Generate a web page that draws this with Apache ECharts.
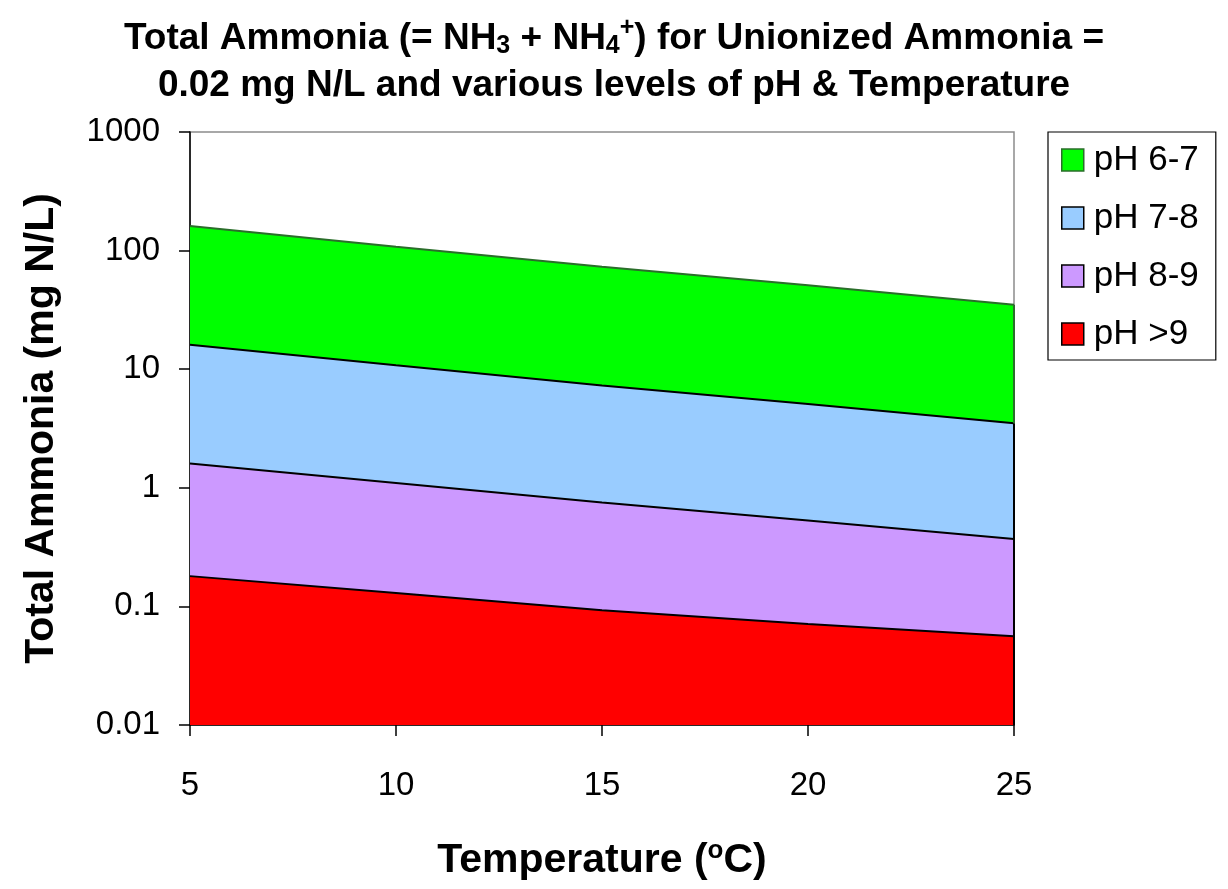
<!DOCTYPE html>
<html>
<head>
<meta charset="utf-8">
<title>Total Ammonia vs Temperature</title>
<script src="https://cdn.jsdelivr.net/npm/echarts@6/dist/echarts.min.js"></script>
<style>
  html, body { margin: 0; padding: 0; background: #fff; }
  #chart { width: 1228px; height: 889px; }
</style>
</head>
<body>
<div id="chart"></div>
<script>
// Temperature (°C) at which total ammonia was evaluated
const temperatures = [5, 10, 15, 20, 25];

// Total ammonia (mg N/L) giving 0.02 mg N/L unionized ammonia, upper bound of each pH band
const ph6to7 = [161, 108, 73, 51, 35];
const ph7to8 = [16.1, 10.8, 7.3, 5.1, 3.5];
const ph8to9 = [1.6, 1.1, 0.75, 0.53, 0.37];
const phAbove9 = [0.18, 0.13, 0.093, 0.071, 0.056];

const seriesNames = ['pH 6-7', 'pH 7-8', 'pH 8-9', 'pH >9'];
const yTickLabels = ['0.01', '0.1', '1', '10', '100', '1000'];
const xTickLabels = ['5', '10', '15', '20', '25'];

const fills = ['#00ff00', '#99ccff', '#cc99ff', '#ff0000'];
const edges = ['#2a6e2a', '#000000', '#000000', '#000000'];
const bands = [ph6to7, ph7to8, ph8to9, phAbove9];

const yMin = Number(yTickLabels[0]);
const yMax = Number(yTickLabels[yTickLabels.length - 1]);
const xMin = Number(xTickLabels[0]);
const xMax = Number(xTickLabels[xTickLabels.length - 1]);

const FONT = '"Liberation Sans", Arial, sans-serif';

const chart = echarts.init(document.getElementById('chart'), null, { renderer: 'canvas' });

// Each band is filled down to the axis floor; later bands paint over earlier ones
const bandSeries = bands.map((vals, i) => ({
  name: seriesNames[i],
  type: 'line',
  data: temperatures.map((t, k) => [t, vals[k]]),
  symbol: 'none',
  z: 2 + i,
  lineStyle: { color: edges[i], width: 2 },
  areaStyle: { color: fills[i], opacity: 1, origin: 'start' },
  silent: true
}));

// Right-hand closing edges of the filled bands
const last = temperatures.length - 1;
const edgeSeries = [
  {
    type: 'line', symbol: 'none', z: 8, silent: true,
    lineStyle: { color: '#000', width: 2 },
    data: [[temperatures[last], yMin], [temperatures[last], ph7to8[last]]]
  },
  {
    type: 'line', symbol: 'none', z: 8, silent: true,
    lineStyle: { color: edges[0], width: 2 },
    data: [[temperatures[last], ph7to8[last]], [temperatures[last], ph6to7[last]]]
  }
];

const option = {
  backgroundColor: '#ffffff',
  animation: false,
  title: {
    left: 'center',
    top: 10,
    textStyle: {
      fontFamily: FONT,
      rich: {
        b: { fontFamily: FONT, fontWeight: 'bold', fontSize: 37, color: '#000', lineHeight: 47 },
        sub: { fontFamily: FONT, fontWeight: 'bold', fontSize: 25, color: '#000', lineHeight: 47, padding: [16, 0, 0, 0] },
        sup: { fontFamily: FONT, fontWeight: 'bold', fontSize: 25, color: '#000', lineHeight: 47, padding: [0, 0, 20, 0] }
      }
    },
    text: '{b|Total Ammonia (= NH}{sub|3}{b| + NH}{sub|4}{sup|+}{b|) for Unionized Ammonia =}\n' +
          '{b|0.02 mg N/L and various levels of pH & Temperature}'
  },
  legend: {
    orient: 'vertical',
    left: 1048,
    top: 132,
    padding: [10, 17, 8, 13],
    itemGap: 22,
    itemWidth: 22,
    itemHeight: 22,
    icon: 'rect',
    borderColor: '#000',
    borderWidth: 1.2,
    backgroundColor: '#fff',
    textStyle: { fontFamily: FONT, fontSize: 35, lineHeight: 36, color: '#000', padding: [0, 0, 0, 5] },
    data: seriesNames.map((n, i) => ({
      name: n,
      itemStyle: { color: fills[i], borderColor: edges[i], borderWidth: 1.5 }
    }))
  },
  grid: {
    left: 190,
    right: 214,
    top: 132,
    bottom: 155,
    show: true,
    borderColor: '#8c8c8c',
    borderWidth: 1.5,
    backgroundColor: '#ffffff'
  },
  xAxis: {
    type: 'value',
    min: xMin,
    max: xMax,
    interval: 5,
    name: '{a|Temperature (}{s|o}{a|C)}',
    nameLocation: 'middle',
    nameGap: 112,
    nameTextStyle: {
      rich: {
        a: { fontFamily: FONT, fontWeight: 'bold', fontSize: 41, color: '#000', lineHeight: 48 },
        s: { fontFamily: FONT, fontWeight: 'bold', fontSize: 26, color: '#000', lineHeight: 48, padding: [0, 0, 20, 0] }
      }
    },
    axisLine: { lineStyle: { color: '#000', width: 1.5 } },
    axisTick: { length: 11, lineStyle: { color: '#000', width: 1.5 } },
    axisLabel: {
      fontFamily: FONT, fontSize: 33, color: '#000', margin: 44,
      formatter: v => xTickLabels[xTickLabels.indexOf(String(v))] || ''
    },
    splitLine: { show: false }
  },
  yAxis: {
    type: 'log',
    logBase: 10,
    min: yMin,
    max: yMax,
    name: 'Total Ammonia (mg N/L)',
    nameLocation: 'middle',
    nameGap: 128,
    nameRotate: 90,
    nameTextStyle: { fontFamily: FONT, fontWeight: 'bold', fontSize: 41, color: '#000' },
    axisLine: { show: true, lineStyle: { color: '#000', width: 1.5 } },
    axisTick: { show: true, length: 11, lineStyle: { color: '#000', width: 1.5 } },
    axisLabel: {
      fontFamily: FONT, fontSize: 33, color: '#000', margin: 30,
      formatter: v => {
        const idx = Math.round(Math.log10(v) - Math.log10(yMin));
        return yTickLabels[idx] || '';
      }
    },
    splitLine: { show: false },
    minorTick: { show: false }
  },
  series: bandSeries.concat(edgeSeries)
};

chart.setOption(option);
</script>
</body>
</html>
